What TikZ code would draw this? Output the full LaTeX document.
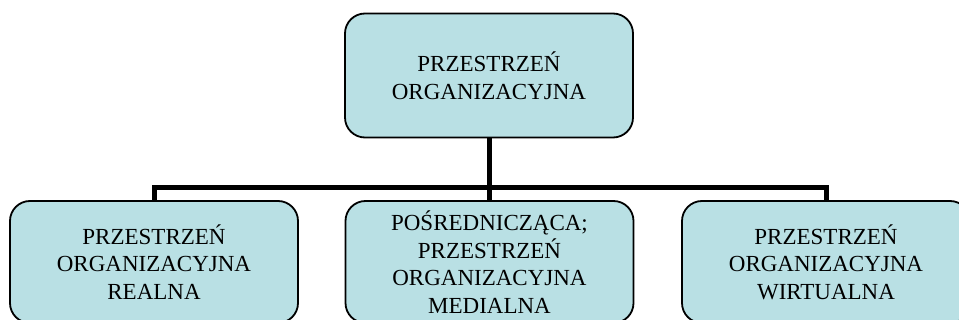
\documentclass[tikz,border=0pt]{standalone}
\usepackage{fontspec}
\setmainfont{Liberation Serif}
\definecolor{boxfill}{RGB}{185,224,228}
\begin{document}
\begin{tikzpicture}[x=1pt,y=-1pt,
  orgbox/.style={draw=black, line width=1.8pt, fill=boxfill, rounded corners=20pt,
    minimum width=288pt, minimum height=122pt, inner sep=0pt, align=center,
    font=\fontsize{23}{27.5}\selectfont},
  conn/.style={draw=black, line width=5pt, line join=miter}]
\useasboundingbox (0,0) rectangle (959,320);
\clip (0,0) rectangle (959,320);
\node[orgbox, minimum height=124pt] (top) at (489,75.5) {PRZESTRZEŃ\\ORGANIZACYJNA};
\node[orgbox] (left) at (154,262) {PRZESTRZEŃ\\ORGANIZACYJNA\\REALNA};
\node[orgbox] (mid) at (489.5,262) {POŚREDNICZĄCA;\\PRZESTRZEŃ\\ORGANIZACYJNA\\MEDIALNA};
\node[orgbox] (right) at (826,262) {PRZESTRZEŃ\\ORGANIZACYJNA\\WIRTUALNA};
\coordinate (bar) at (490,188);
\draw[conn] (top.south) -- (top.south |- bar);
\draw[conn] (left.north) -- (left.north |- bar) -- (right.north |- bar) -- (right.north);
\draw[conn] (mid.north |- bar) -- (mid.north);
\end{tikzpicture}
\end{document}
